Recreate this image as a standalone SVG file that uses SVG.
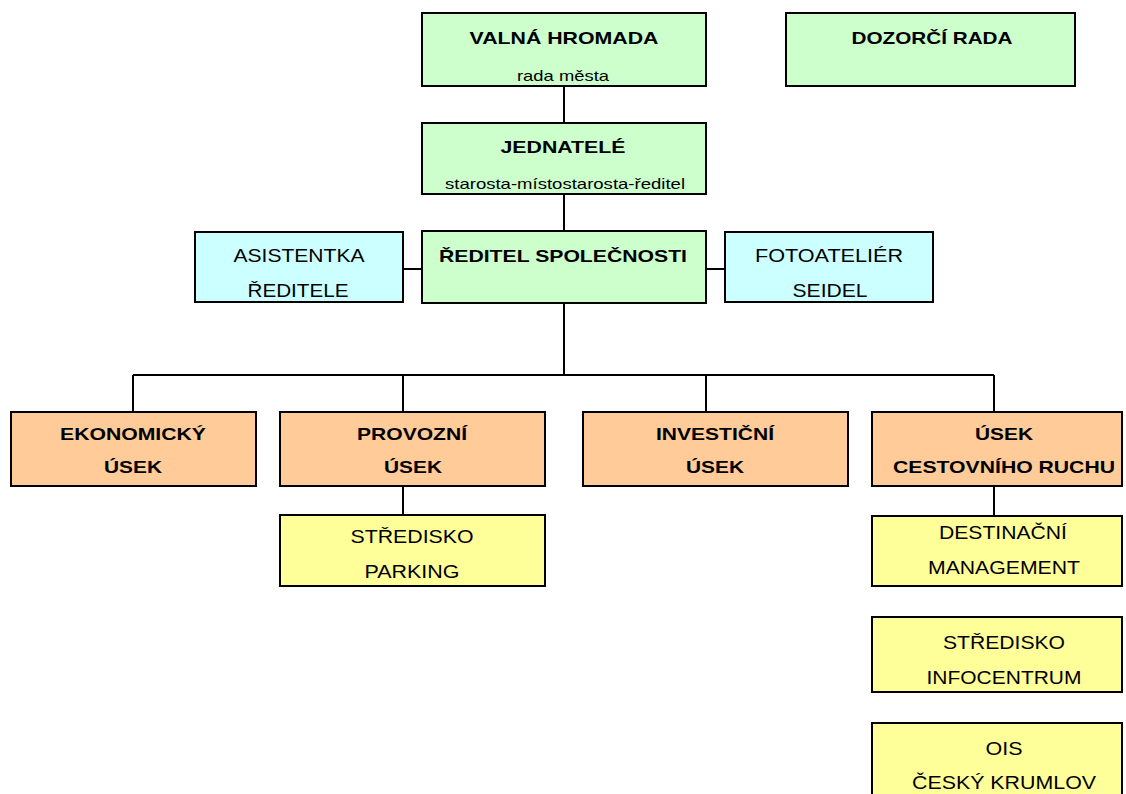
<svg xmlns="http://www.w3.org/2000/svg" width="1126" height="794" viewBox="0 0 1126 794">
<style>
rect{stroke:#000;stroke-width:2}
.g{fill:#CCFFCC}.b{fill:#CCFFFF}.o{fill:#FFCC99}.y{fill:#FFFF99}
text{font-family:"Liberation Sans",Arial,sans-serif;fill:#000;text-anchor:middle}
.t{font-weight:bold;font-size:17px}
.r{font-size:18px}
.s{font-size:15px}
#connectors path{stroke:#000;stroke-width:2;fill:none}
</style>
<rect width="1126" height="794" fill="#fff" style="stroke:none"/>
<g id="connectors">
<path d="M564 86V123M564 194V231M564 303V375M133 375H994M133 375V412M403 375V412M706 375V412M994 375V412M403 269H422M706 269H725M403 486V515M994 486V516"/>
</g>
<g id="valna"><rect class="g" x="422" y="13" width="284" height="73"/>
<text class="t" x="564" y="44" textLength="189" lengthAdjust="spacingAndGlyphs">VALNÁ HROMADA</text>
<text class="s" x="563" y="81" textLength="92" lengthAdjust="spacingAndGlyphs">rada města</text></g>
<g id="dozorci"><rect class="g" x="786" y="13" width="289" height="73"/>
<text class="t" x="932" y="44" textLength="161" lengthAdjust="spacingAndGlyphs">DOZORČÍ RADA</text></g>
<g id="jednatele"><rect class="g" x="422" y="123" width="284" height="71"/>
<text class="t" x="563" y="153" textLength="125" lengthAdjust="spacingAndGlyphs">JEDNATELÉ</text>
<text class="s" x="565" y="189" textLength="240" lengthAdjust="spacingAndGlyphs">starosta-místostarosta-ředitel</text></g>
<g id="reditel"><rect class="g" x="422" y="231" width="284" height="72"/>
<text class="t" x="563" y="262" textLength="248" lengthAdjust="spacingAndGlyphs">ŘEDITEL SPOLEČNOSTI</text></g>
<g id="asistentka"><rect class="b" x="195" y="232" width="208" height="70"/>
<text class="r" x="299" y="262" textLength="131" lengthAdjust="spacingAndGlyphs">ASISTENTKA</text>
<text class="r" x="298" y="297" textLength="101" lengthAdjust="spacingAndGlyphs">ŘEDITELE</text></g>
<g id="foto"><rect class="b" x="725" y="232" width="208" height="70"/>
<text class="r" x="829" y="262" textLength="148" lengthAdjust="spacingAndGlyphs">FOTOATELIÉR</text>
<text class="r" x="830" y="297" textLength="75" lengthAdjust="spacingAndGlyphs">SEIDEL</text></g>
<g id="ekonomicky"><rect class="o" x="11" y="412" width="245" height="74"/>
<text class="t" x="133" y="440" textLength="146" lengthAdjust="spacingAndGlyphs">EKONOMICKÝ</text>
<text class="t" x="133" y="473" textLength="58" lengthAdjust="spacingAndGlyphs">ÚSEK</text></g>
<g id="provozni"><rect class="o" x="280" y="412" width="265" height="74"/>
<text class="t" x="412" y="440" textLength="110" lengthAdjust="spacingAndGlyphs">PROVOZNÍ</text>
<text class="t" x="413" y="473" textLength="58" lengthAdjust="spacingAndGlyphs">ÚSEK</text></g>
<g id="investicni"><rect class="o" x="583" y="412" width="265" height="74"/>
<text class="t" x="715" y="440" textLength="118" lengthAdjust="spacingAndGlyphs">INVESTIČNÍ</text>
<text class="t" x="715" y="473" textLength="58" lengthAdjust="spacingAndGlyphs">ÚSEK</text></g>
<g id="cestovni"><rect class="o" x="872" y="412" width="250" height="74"/>
<text class="t" x="1004" y="440" textLength="58" lengthAdjust="spacingAndGlyphs">ÚSEK</text>
<text class="t" x="1004" y="473" textLength="222" lengthAdjust="spacingAndGlyphs">CESTOVNÍHO RUCHU</text></g>
<g id="parking"><rect class="y" x="280" y="515" width="265" height="71"/>
<text class="r" x="412" y="543" textLength="123" lengthAdjust="spacingAndGlyphs">STŘEDISKO</text>
<text class="r" x="412" y="578" textLength="95" lengthAdjust="spacingAndGlyphs">PARKING</text></g>
<g id="destinacni"><rect class="y" x="872" y="516" width="250" height="70"/>
<text class="r" x="1003" y="539" textLength="128" lengthAdjust="spacingAndGlyphs">DESTINAČNÍ</text>
<text class="r" x="1004" y="574" textLength="152" lengthAdjust="spacingAndGlyphs">MANAGEMENT</text></g>
<g id="infocentrum"><rect class="y" x="872" y="617" width="250" height="75"/>
<text class="r" x="1004" y="649" textLength="122" lengthAdjust="spacingAndGlyphs">STŘEDISKO</text>
<text class="r" x="1004" y="684" textLength="155" lengthAdjust="spacingAndGlyphs">INFOCENTRUM</text></g>
<g id="ois"><rect class="y" x="872" y="723" width="250" height="80"/>
<text class="r" x="1004" y="755" textLength="37" lengthAdjust="spacingAndGlyphs">OIS</text>
<text class="r" x="1004" y="789" textLength="184" lengthAdjust="spacingAndGlyphs">ČESKÝ KRUMLOV</text></g>
</svg>
